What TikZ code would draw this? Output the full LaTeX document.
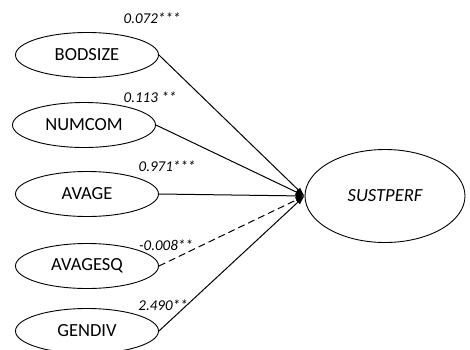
\documentclass[tikz,border=0pt]{standalone}
\usepackage{fontspec}
\setmainfont{Carlito}
\usepackage{tikz}
\usetikzlibrary{shapes,arrows.meta,positioning,calc}

\begin{document}
\begin{tikzpicture}[x=1pt,y=1pt,
  var/.style={draw,ellipse,line width=0.9pt,minimum width=143pt,minimum height=45pt,inner sep=0pt,font=\fontsize{18.5}{20}\selectfont},
  coef/.style={font=\fontsize{15}{17}\selectfont\itshape,inner sep=0pt},
  path/.style={line width=1pt,-{Latex[length=9pt,width=6pt]}}]
\useasboundingbox (0,0) rectangle (470,349);
% Predictors
\node[var] (bodsize) at (87,294) {BODSIZE};
\node[var] (numcom) at (84,224) {NUMCOM};
\node[var] (avage) at (87,155) {AVAGE};
\node[var] (avagesq) at (87,83) {AVAGESQ};
\node[var] (gendiv) at (87,18) {GENDIV};
% Outcome
\node[var,minimum width=160pt,minimum height=93pt] (sustperf) at (385,153) {\itshape SUSTPERF};
% Paths
\draw[path] (bodsize.east) -- (sustperf.west);
\draw[path] (numcom.east) -- (sustperf.west);
\draw[path] (avage.east) -- (sustperf.west);
\draw[path,dash pattern=on 7pt off 4pt] (avagesq.east) -- (sustperf.west);
\draw[path] (gendiv.east) -- (sustperf.west);
% Coefficients
\node[coef] (c1) at (152,331) {0.072***};
\node[coef] (c2) at (150,252) {0.113 **};
\node[coef] (c3) at (167,183) {0.971***};
\node[coef] (c4) at (166,104) {-0.008**};
\node[coef] (c5) at (163,44) {2.490**};
\end{tikzpicture}
\end{document}
